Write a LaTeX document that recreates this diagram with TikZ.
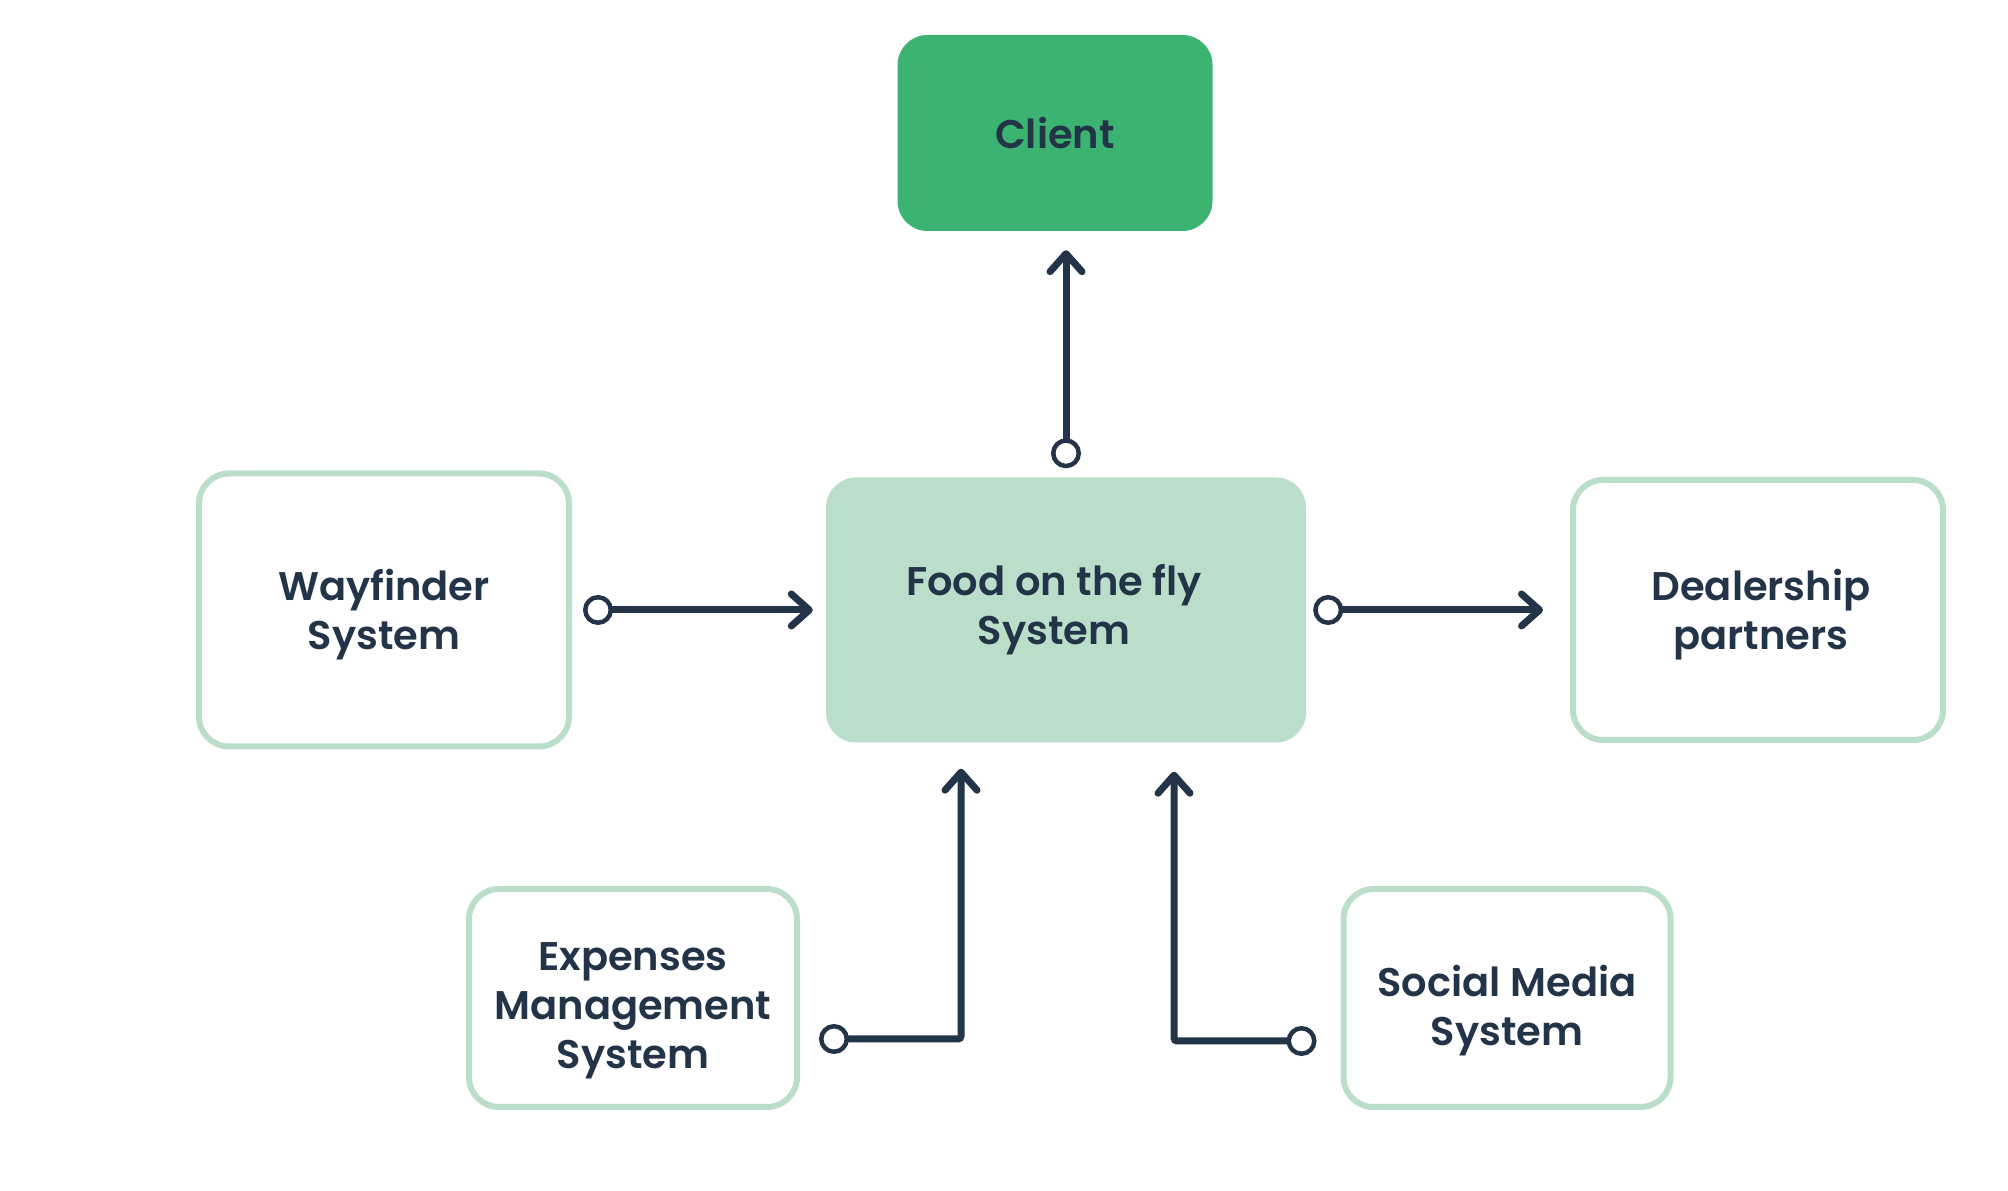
\documentclass[tikz,border=0pt]{standalone}
\usepackage{fontspec}
\setmainfont{Poppins}[BoldFont={* SemiBold}]
\usetikzlibrary{arrows.meta}
\definecolor{navy}{HTML}{233348}
\definecolor{leaf}{HTML}{3CB371}
\definecolor{mint}{HTML}{BBDECA}

\begin{document}
\begin{tikzpicture}[x=1pt, y=1pt,
    words/.style={align=center, text=navy, inner sep=0pt,
        font=\fontsize{40}{49}\selectfont\bfseries},
    box/.style={rounded corners=30pt, inner sep=0pt},
    outline/.style={box, draw=mint, line width=6pt, fill=white},
    link/.style={draw=navy, line width=7pt, rounded corners=3pt,
        {Circle[length=30pt, line width=4.5pt, fill=white]}-{Straight Barb[length=18pt, width=32pt, round]}}]
  \useasboundingbox (0,0) rectangle (2008,1191);
  % the system and the client
  \node[box, fill=leaf, minimum width=315pt, minimum height=196pt,
    label={[words]center:Client}] (client) at (1055,1058) {};
  \node[box, fill=mint, minimum width=480pt, minimum height=265pt,
    label={[words, xshift=-12pt]center:Food on the fly\\System}] (food) at (1066,581) {};
  % outer systems
  \node[outline, minimum width=370pt, minimum height=273pt,
    label={[words, yshift=-5pt]center:Wayfinder\\System}] (way) at (384,581) {};
  \node[outline, minimum width=370pt, minimum height=260pt,
    label={[words, xshift=3pt, yshift=-5pt]center:Dealership\\partners}] (dealer) at (1758,581) {};
  \node[outline, minimum width=328pt, minimum height=218pt,
    label={[words, yshift=-13pt]center:Expenses\\Management\\System}] (expense) at (633,193) {};
  \node[outline, minimum width=327pt, minimum height=218pt,
    label={[words, yshift=-13pt]center:Social Media\\System}] (social) at (1507,193) {};
  % connectors
  \draw[link] ([yshift=9pt]food.north) -- ([yshift=-19pt]food.north |- client.south);
  \draw[link] ([xshift=11pt]way.east) -- ([xshift=-13pt]food.west);
  \draw[link] ([xshift=7pt]food.east) -- ([xshift=-27pt]dealer.west);
  \draw[link] ([shift={(19pt,-41pt)}]expense.east) -| ([shift={(-105pt,-26pt)}]food.south);
  \draw[link] ([shift={(-24pt,-43pt)}]social.west) -| ([shift={(108pt,-29pt)}]food.south);
\end{tikzpicture}
\end{document}
